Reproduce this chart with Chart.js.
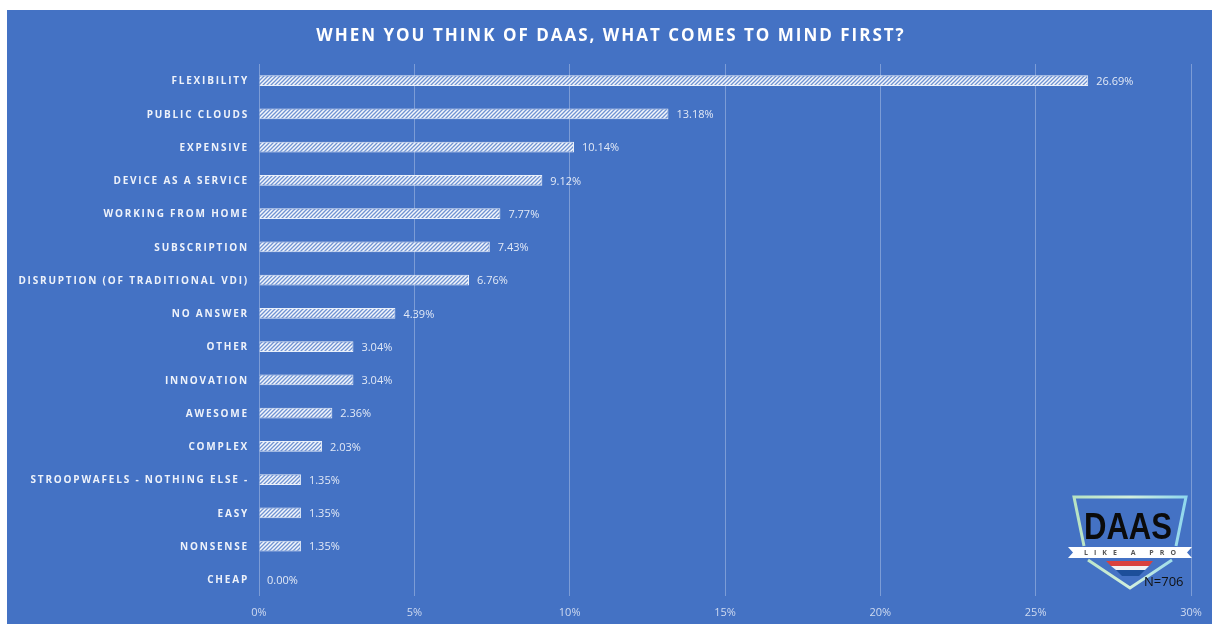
<!DOCTYPE html>
<html>
<head>
<meta charset="utf-8">
<script src="https://cdn.jsdelivr.net/npm/chart.js@4/dist/chart.umd.min.js"></script>
<style>
html,body{margin:0;padding:0;background:#fff;}
#wrap{width:1212px;height:624px;position:relative;}
</style>
</head>
<body>
<div id="wrap"><canvas id="c" width="1212" height="624"></canvas></div>
<script>
const titleText = 'WHEN YOU THINK OF DAAS, WHAT COMES TO MIND FIRST?';
const categories = ['FLEXIBILITY','PUBLIC CLOUDS','EXPENSIVE','DEVICE AS A SERVICE','WORKING FROM HOME','SUBSCRIPTION','DISRUPTION (OF TRADITIONAL VDI)','NO ANSWER','OTHER','INNOVATION','AWESOME','COMPLEX','STROOPWAFELS - NOTHING ELSE -','EASY','NONSENSE','CHEAP'];
const values = [26.69,13.18,10.14,9.12,7.77,7.43,6.76,4.39,3.04,3.04,2.36,2.03,1.35,1.35,1.35,0.00];
const xTicks = [0,5,10,15,20,25,30];
const noteText = 'N=706';

const BLUE = '#4472C4';

// hatch pattern
function makePattern(){
  const p = document.createElement('canvas');
  p.width = 4; p.height = 4;
  const c = p.getContext('2d');
  c.fillStyle = '#f4f7fc';
  c.fillRect(0,0,4,4);
  c.strokeStyle = '#6f92d2';
  c.lineWidth = 1.3;
  c.beginPath();
  c.moveTo(-1,5); c.lineTo(5,-1);
  c.moveTo(-1,1); c.lineTo(1,-1);
  c.moveTo(3,5); c.lineTo(5,3);
  c.stroke();
  return document.getElementById('c').getContext('2d').createPattern(p,'repeat');
}

class LSCategory extends Chart.CategoryScale {
  drawLabels(area){ const c=this.ctx; c.save(); c.letterSpacing='1.8px'; super.drawLabels(area); c.restore(); }
}
LSCategory.id = 'lscategory';
LSCategory.defaults = Chart.CategoryScale.defaults;
class LSLinear extends Chart.LinearScale {
  drawLabels(area){ const c=this.ctx; c.save(); c.letterSpacing='0px'; super.drawLabels(area); c.restore(); }
}
LSLinear.id = 'lslinear';
LSLinear.defaults = Chart.LinearScale.defaults;
Chart.register(LSCategory, LSLinear);

const bgPlugin = {
  id:'bg',
  afterLayout(chart){
    if (chart.titleBlock) { chart.titleBlock.left = 31; }
  },
  beforeDraw(chart){
    const ctx = chart.ctx;
    ctx.save();
    ctx.fillStyle = '#ffffff';
    ctx.fillRect(0,0,chart.width,chart.height);
    ctx.fillStyle = BLUE;
    ctx.fillRect(7,10,chart.width-7,chart.height-10);
    ctx.restore();
    ctx.letterSpacing = '2px';
  },
  afterDraw(chart){
    chart.ctx.letterSpacing = '0px';
  }
};

const valueLabels = {
  id:'valueLabels',
  afterDatasetsDraw(chart){
    const ctx = chart.ctx;
    const meta = chart.getDatasetMeta(0);
    ctx.save();
    ctx.letterSpacing = '0px';
    ctx.font = '11px "Open Sans"';
    ctx.fillStyle = '#e2e9f6';
    ctx.textAlign = 'left';
    ctx.textBaseline = 'middle';
    meta.data.forEach((bar,i)=>{
      ctx.fillText(values[i].toFixed(2)+'%', bar.x + 8, bar.y + 1);
    });
    ctx.restore();
  }
};

const logo = {
  id:'logo',
  afterDraw(chart){
    const ctx = chart.ctx;
    ctx.save();
    ctx.letterSpacing = '0px';
    const g = ctx.createLinearGradient(1073,0,1187,0);
    g.addColorStop(0,'#b6e2c2'); g.addColorStop(0.5,'#d2efdc'); g.addColorStop(1,'#8ed7ee');
    ctx.strokeStyle = g; ctx.lineWidth = 3; ctx.lineJoin = 'miter';
    ctx.beginPath();
    ctx.moveTo(1084,546); ctx.lineTo(1074,497); ctx.lineTo(1186,497); ctx.lineTo(1176,546);
    ctx.stroke();
    ctx.beginPath();
    ctx.moveTo(1088,560); ctx.lineTo(1130,588); ctx.lineTo(1172,560);
    ctx.stroke();
    // DAAS
    ctx.fillStyle = '#0b0b0b';
    ctx.font = 'bold 37px "Liberation Sans"';
    ctx.textAlign = 'center'; ctx.textBaseline = 'alphabetic';
    ctx.fillText('DAAS', 1128, 539, 88);
    // ribbon
    ctx.fillStyle = '#ffffff';
    ctx.beginPath();
    ctx.moveTo(1068,547); ctx.lineTo(1192,547); ctx.lineTo(1187,552.5); ctx.lineTo(1192,558);
    ctx.lineTo(1068,558); ctx.lineTo(1073,552.5); ctx.closePath(); ctx.fill();
    ctx.fillStyle = '#555';
    ctx.font = 'bold 7px "Open Sans"';
    ctx.letterSpacing = '6px';
    ctx.textBaseline = 'middle';
    ctx.fillText('LIKE A PRO', 1133, 553);
    ctx.letterSpacing = '0px';
    // flag stripes
    ctx.fillStyle = '#d9423f';
    ctx.beginPath(); ctx.moveTo(1106,561); ctx.lineTo(1153,561); ctx.lineTo(1149,566); ctx.lineTo(1111,566); ctx.closePath(); ctx.fill();
    ctx.fillStyle = '#f2f2f2';
    ctx.beginPath(); ctx.moveTo(1111,566); ctx.lineTo(1149,566); ctx.lineTo(1145,570); ctx.lineTo(1116,570); ctx.closePath(); ctx.fill();
    ctx.fillStyle = '#1d4f9a';
    ctx.beginPath(); ctx.moveTo(1116,570); ctx.lineTo(1145,570); ctx.lineTo(1139,576); ctx.lineTo(1122,576); ctx.closePath(); ctx.fill();
    // N
    ctx.fillStyle = '#111';
    ctx.font = '13px "Open Sans"';
    ctx.textAlign = 'left';
    ctx.textBaseline = 'middle';
    ctx.fillText(noteText, 1144, 582);
    ctx.restore();
  }
};

new Chart(document.getElementById('c'), {
  type:'bar',
  data:{
    labels: categories,
    datasets:[{
      data: values,
      backgroundColor: makePattern(),
      borderColor: '#e9eff9',
      borderWidth: 1,
      barPercentage: 0.33,
      categoryPercentage: 1
    }]
  },
  options:{
    indexAxis:'y',
    responsive:false,
    animation:false,
    devicePixelRatio:1,
    layout:{padding:{left:0,right:21,top:0,bottom:0}},
    plugins:{
      legend:{display:false},
      tooltip:{enabled:false},
      title:{
        display:true,
        text:titleText,
        color:'#ffffff',
        font:{family:'"Open Sans"', size:17, weight:'bold', lineHeight:1.2},
        padding:{top:25.8, bottom:17.8}
      }
    },
    scales:{
      x:{
        type:'lslinear',
        min:0, max:30,
        afterBuildTicks(s){ s.ticks = xTicks.map(v=>({value:v})); },
        afterFit(s){ s.height = 28; },
        border:{display:false},
        grid:{color:'rgba(255,255,255,0.3)', lineWidth:1, drawTicks:false},
        ticks:{
          color:'#cfdaf0',
          font:{family:'"Open Sans"', size:11},
          padding:10,
          callback:(v)=>v+'%'
        }
      },
      y:{
        type:'lscategory',
        afterFit(s){ s.width = 259; },
        border:{display:false},
        grid:{display:false, drawTicks:false},
        ticks:{
          color:'#eef2fa',
          font:{family:'"Open Sans"', size:10, weight:'bold'},
          padding:10,
          labelOffset:1,
          autoSkip:false
        }
      }
    }
  },
  plugins:[bgPlugin, valueLabels, logo]
});
</script>
</body>
</html>
